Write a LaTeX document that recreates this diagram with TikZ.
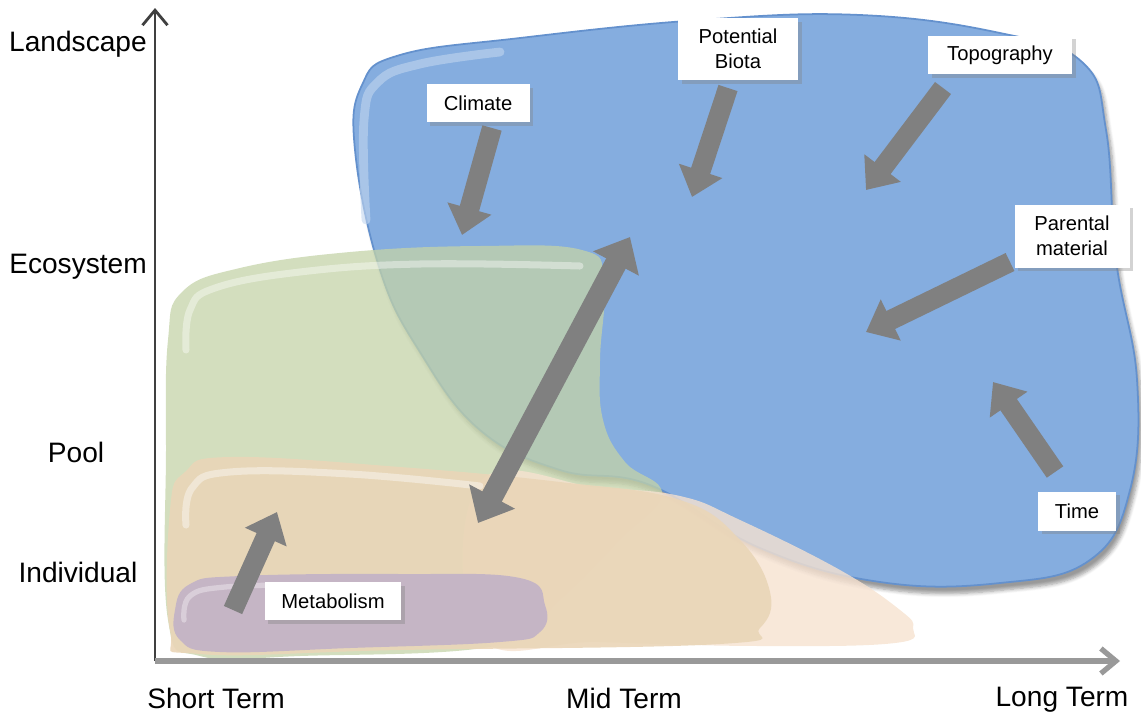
\documentclass[tikz,border=0pt]{standalone}
\usepackage{fontspec}
\setmainfont{Liberation Sans}
\usetikzlibrary{
  arrows.meta,
  positioning,
  shadows,
  shadows.blur
}

\begin{document}
\begin{tikzpicture}[
  x=0.02cm, y=-0.02cm,
  every node/.style={font=\fontsize{16}{19}\selectfont},
  axislab/.style={inner sep=0pt},
  tag/.style={fill=white, inner sep=0pt, align=center,
    font=\fontsize{11.5}{14}\selectfont,
    drop shadow={shadow xshift=2pt, shadow yshift=-2pt, opacity=0.35}},
  blk/.style={draw=arrowgray, line width=0.4cm,
    -{Triangle[length=0.55cm, width=0.88cm]}},
  blob/.style={smooth cycle, tension=0.7},
  gloss/.style={line width=4pt, line cap=round, draw=white, opacity=0.4}
]
  % colours of the areas
  \definecolor{bluefill}{RGB}{133,173,223}
  \definecolor{blueedge}{RGB}{100,145,205}
  \definecolor{greenfill}{RGB}{196,211,168}
  \definecolor{tanfill}{RGB}{234,214,184}
  \definecolor{peachfill}{RGB}{246,226,208}
  \definecolor{purplefill}{RGB}{196,180,198}
  \definecolor{arrowgray}{RGB}{128,128,128}

  \useasboundingbox (0,0) rectangle (1141,717);

  % landscape area (blue)
  \fill[bluefill, draw=blueedge, line width=1pt,
    blur shadow={shadow xshift=2pt, shadow yshift=-4pt, shadow blur steps=6}]
    plot[blob] coordinates {(355,150) (362,85) (400,55) (520,38) (700,20)
      (860,15) (1000,33) (1082,62) (1106,130) (1116,260) (1137,380)
      (1130,490) (1090,560) (1000,583) (880,582) (760,548) (650,485)
      (560,470) (480,430) (420,352) (380,270)};
  \draw[gloss, draw=white!50!bluefill, line width=5pt, opacity=0.6]
    plot[smooth, tension=0.7]
    coordinates {(366,220) (364,120) (378,82) (420,64) (500,52)};

  % ecosystem area (green)
  \fill[greenfill, opacity=0.75]
    plot[blob] coordinates {(168,340) (182,292) (240,268) (350,252)
      (480,246) (582,250) (604,280) (600,360) (603,420) (625,462)
      (662,494) (620,540) (560,600) (500,645) (300,656) (200,656)
      (168,620) (166,450)};
  \draw[gloss] plot[smooth, tension=0.7]
    coordinates {(186,350) (190,310) (215,288) (300,272) (420,264) (580,266)};

  % pool area (peach and tan)
  \fill[peachfill, opacity=0.8]
    plot[blob] coordinates {(480,482) (600,488) (680,496) (740,520)
      (840,570) (900,610) (913,628) (895,643) (760,646) (600,642)
      (480,636)};
  \fill[tanfill, opacity=0.92]
    plot[blob] coordinates {(170,510) (185,472) (230,457) (400,467)
      (560,482) (680,500) (740,540) (770,592) (760,628) (720,644)
      (400,650) (200,654) (170,630)};
  \draw[gloss] plot[smooth, tension=0.7]
    coordinates {(186,525) (192,488) (230,472) (350,474) (480,486)};

  % individual area (purple)
  \fill[purplefill, opacity=0.95]
    plot[blob] coordinates {(175,610) (190,584) (240,576) (400,574)
      (520,578) (545,605) (540,632) (500,642) (350,648) (220,652)
      (180,640)};
  \draw[gloss, line width=3pt, opacity=0.35] plot[smooth, tension=0.7]
    coordinates {(184,620) (190,596) (225,587) (300,585)};

  % axes
  \coordinate (O) at (155,661);
  \coordinate (ytop) at (155,8);
  \coordinate (xend) at (1120,661);
  \draw[line width=1.6pt, black!75, -{Straight Barb[length=3mm, width=5mm]}]
    (O) -- (ytop);
  \draw[line width=3pt, black!40, -{Straight Barb[length=3mm, width=5mm]}]
    (O) -- (xend);

  % axis labels
  \node[axislab] (land) at (78,44) {Landscape};
  \node[axislab] (eco) at (78,267) {Ecosystem};
  \node[axislab] (pool) at (76,452) {Pool};
  \node[axislab] (indiv) at (78,572) {Individual};
  \node[axislab] (short) at (216,698) {Short Term};
  \node[axislab] (mid) at (624,698) {Mid Term};
  \node[axislab] (long) at (1062,700) {Long Term};

  % factor labels
  \node[tag, minimum width=2.06cm, minimum height=0.76cm] (clim) at (478,103) {Climate};
  \node[tag, minimum width=2.4cm, minimum height=1.24cm] (biota) at (738,49) {Potential\\Biota};
  \node[tag, minimum width=2.88cm, minimum height=0.78cm] (topo) at (1000,55) {Topography};
  \node[tag, minimum width=2.3cm, minimum height=1.26cm] (parent) at (1072,236) {Parental\\material};
  \node[tag, minimum width=1.56cm, minimum height=0.78cm] (time) at (1077,511) {Time};

  % arrows ends
  \coordinate (climA) at (492,128);  \coordinate (climB) at (462,235);
  \coordinate (biotaA) at (728,88);  \coordinate (biotaB) at (692,197);
  \coordinate (topoA) at (943,88);   \coordinate (topoB) at (866,190);
  \coordinate (parA) at (1010,262);  \coordinate (parB) at (866,332);
  \coordinate (timeA) at (1055,472); \coordinate (timeB) at (993,382);
  \coordinate (scaleA) at (478,523); \coordinate (scaleB) at (630,237);
  \coordinate (metA) at (233,610);   \coordinate (metB) at (277,512);

  \draw[blk] (climA) -- (climB);
  \draw[blk] (biotaA) -- (biotaB);
  \draw[blk] (topoA) -- (topoB);
  \draw[blk] (parA) -- (parB);
  \draw[blk] (timeA) -- (timeB);
  \draw[blk, line width=0.44cm,
    {Triangle[length=0.6cm, width=1cm]}-{Triangle[length=0.6cm, width=1cm]}]
    (scaleA) -- (scaleB);
  \draw[blk] (metA) -- (metB);

  \node[tag, minimum width=2.74cm, minimum height=0.76cm] (metab) at (333,601) {Metabolism};

\end{tikzpicture}
\end{document}
